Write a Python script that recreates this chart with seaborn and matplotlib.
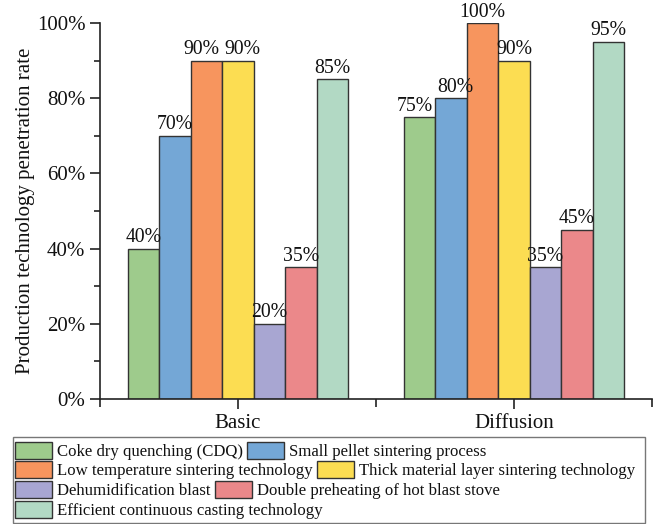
import matplotlib
matplotlib.use("Agg")
import matplotlib.pyplot as plt
import seaborn as sns
import pandas as pd
from matplotlib.patches import Rectangle
from matplotlib.ticker import MultipleLocator, FixedLocator, FuncFormatter

# ---- data ----
groups = ["Basic", "Diffusion"]
technologies = [
    "Coke dry quenching (CDQ)",
    "Small pellet sintering process",
    "Low temperature sintering technology",
    "Thick material layer sintering technology",
    "Dehumidification blast",
    "Double preheating of hot blast stove",
    "Efficient continuous casting technology",
]
basic_values = [40, 70, 90, 90, 20, 35, 85]
diffusion_values = [75, 80, 100, 90, 35, 45, 95]
colors = ["#9ECB8C", "#74A7D6", "#F7955E", "#FCDD52", "#A8A6D2", "#EB888A", "#B2D9C4"]
y_label = "Production technology penetration rate"

rows = []
for g, vals in zip(groups, [basic_values, diffusion_values]):
    for t, v in zip(technologies, vals):
        rows.append({"group": g, "tech": t, "value": v})
df = pd.DataFrame(rows)

sns.set_theme(style="white")
plt.rcParams["font.family"] = ["Liberation Serif", "DejaVu Serif"]

DPI = 100
fig = plt.figure(figsize=(6.61, 5.24), dpi=DPI)
ax = fig.add_axes([100 / 661, 1 - 399 / 524, 552 / 661, 376 / 524])

sns.barplot(data=df, x="group", y="value", hue="tech", hue_order=technologies,
            order=groups, palette=colors, width=0.8, edgecolor="#333333",
            linewidth=1.0, saturation=1, legend=False, ax=ax)

all_labels = []
for cont in ax.containers:
    vals = [p.get_height() for p in cont.patches]
    anns = ax.bar_label(cont, labels=[f"{v:.0f}%" for v in vals], padding=1,
                        fontsize=14.2, color="#111111")
    all_labels.extend(anns)

ax.set_ylim(0, 100)
ax.set_xlim(-0.5, 1.5)
ax.yaxis.set_major_locator(MultipleLocator(20))
ax.yaxis.set_minor_locator(MultipleLocator(10))
ax.yaxis.set_major_formatter(FuncFormatter(lambda v, p: f"{v:.0f}%"))
ax.xaxis.set_minor_locator(FixedLocator([-0.5, 0.5, 1.5]))
ax.tick_params(axis="both", which="major", direction="out", length=7, width=1.2,
               color="#222222", labelsize=15, labelcolor="#111111", left=True, bottom=True)
ax.tick_params(axis="both", which="minor", direction="out", length=4, width=1.2,
               color="#222222", left=True, bottom=True)
ax.tick_params(axis="x", which="minor", length=6)
ax.set_xlabel("")
ax.set_ylabel(y_label, fontsize=15, color="#111111", labelpad=1)

for s in ["top", "right"]:
    ax.spines[s].set_visible(False)
for s in ["left", "bottom"]:
    ax.spines[s].set_color("#222222")
    ax.spines[s].set_linewidth(1.2)

# ---- nudge adjacent value labels apart where they collide ----
fig.canvas.draw()
renderer = fig.canvas.get_renderer()
items = sorted(all_labels, key=lambda a: a.get_window_extent(renderer).x0)
for a, b in zip(items[:-1], items[1:]):
    ba, bb = a.get_window_extent(renderer), b.get_window_extent(renderer)
    overlap_x = ba.x1 - bb.x0
    overlap_y = min(ba.y1, bb.y1) - max(ba.y0, bb.y0)
    if overlap_x > -3 and overlap_y > 0:
        shift_pt = (overlap_x / 2 + 2.5) * 72 / DPI
        xa, ya = a.xyann
        xb, yb = b.xyann
        a.xyann = (xa - shift_pt, ya)
        b.xyann = (xb + shift_pt, yb)

# ---- legend: flowing rows inside one frame ----
handles = {}
for t, cont in zip(technologies, ax.containers):
    handles[t] = cont.patches[0]
row_groups = [[0, 1], [2, 3], [4, 5], [6]]
W, H = 661, 524
row_tops = [442, 461, 481, 501]
for idx, top in zip(row_groups, row_tops):
    fig.legend([handles[technologies[i]] for i in idx],
               [technologies[i] for i in idx],
               loc="upper left", bbox_to_anchor=(15 / W, 1 - top / H),
               ncol=len(idx), frameon=False, fontsize=12.1, borderpad=0,
               borderaxespad=0, handlelength=2.2, handleheight=1.15,
               handletextpad=0.3, columnspacing=0.25, labelspacing=0.1,
               labelcolor="#111111")
fig.patches.append(Rectangle((13 / W, 1 - 523 / H), (645 - 13) / W, (523 - 437) / H,
                             transform=fig.transFigure, fill=False,
                             edgecolor="#777777", linewidth=1.0))

fig.savefig("out.png", dpi=DPI)
